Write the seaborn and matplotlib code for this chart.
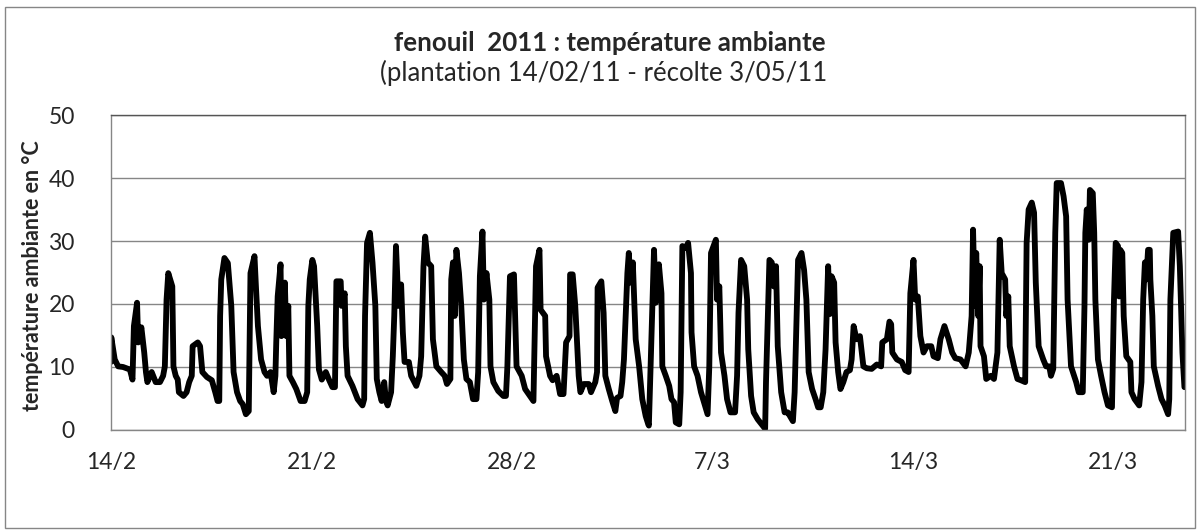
import matplotlib
matplotlib.use('Agg')
import matplotlib.pyplot as plt
import seaborn as sns
from matplotlib.patches import Rectangle

# jours depuis le 14/2 et température ambiante (°C)
jours = [
    0.0, 0.01, 0.13, 0.25, 0.42, 0.66, 0.75, 0.80, 0.91, 0.95, 1.06, 1.16, 1.22, 1.27, 1.42, 1.56,
    1.71, 1.82, 1.88, 1.94, 2.0, 2.14, 2.18, 2.26, 2.33, 2.37, 2.53, 2.64, 2.73, 2.82, 2.85, 3.03,
    3.11, 3.19, 3.35, 3.52, 3.64, 3.72, 3.78, 3.81, 3.85, 3.96, 4.08, 4.20, 4.28, 4.40, 4.51, 4.60,
    4.71, 4.81, 4.87, 5.01, 5.06, 5.13, 5.24, 5.36, 5.45, 5.57, 5.68, 5.74, 5.77, 5.82, 5.92, 5.95,
    6.07, 6.12, 6.19, 6.23, 6.35, 6.47, 6.62, 6.76, 6.85, 6.89, 6.94, 7.03, 7.09, 7.20, 7.26, 7.36,
    7.50, 7.61, 7.73, 7.82, 7.87, 8.02, 8.05, 8.16, 8.20, 8.26, 8.43, 8.61, 8.78, 8.84, 8.87, 8.94,
    9.04, 9.13, 9.23, 9.28, 9.37, 9.45, 9.54, 9.60, 9.66, 9.78, 9.84, 9.89, 9.95, 10.04, 10.13, 10.19,
    10.25, 10.40, 10.48, 10.66, 10.77, 10.83, 10.91, 10.97, 11.06, 11.18, 11.24, 11.36, 11.53, 11.65,
    11.73, 11.85, 11.88, 11.94, 12.00, 12.06, 12.15, 12.23, 12.32, 12.41, 12.53, 12.64, 12.76, 12.82,
    12.88, 12.97, 13.02, 13.11, 13.21, 13.25, 13.35, 13.52, 13.70, 13.79, 13.84, 13.93, 14.07, 14.16,
    14.34, 14.46, 14.63, 14.75, 14.84, 14.96, 15.00, 15.16, 15.19, 15.33, 15.42, 15.56, 15.68, 15.80,
    15.89, 16.01, 16.03, 16.12, 16.21, 16.33, 16.39, 16.51, 16.68, 16.76, 16.91, 16.97, 16.99, 17.12,
    17.20, 17.26, 17.38, 17.50, 17.61, 17.67, 17.79, 17.85, 17.91, 18.03, 18.08, 18.14, 18.22, 18.32,
    18.44, 18.55, 18.67, 18.76, 18.78, 18.90, 18.96, 19.02, 19.13, 19.22, 19.25, 19.37, 19.49, 19.57,
    19.66, 19.72, 19.84, 19.89, 19.95, 20.07, 20.15, 20.25, 20.27, 20.36, 20.48, 20.60, 20.74, 20.83,
    20.89, 20.95, 21.04, 21.12, 21.16, 21.24, 21.30, 21.42, 21.51, 21.63, 21.79, 21.86, 21.91, 22.00,
    22.11, 22.21, 22.25, 22.35, 22.44, 22.58, 22.72, 22.84, 22.87, 22.99, 23.07, 23.14, 23.22, 23.28,
    23.40, 23.52, 23.63, 23.81, 23.87, 23.99, 24.11, 24.20, 24.28, 24.36, 24.48, 24.60, 24.69, 24.78,
    24.87, 24.95, 25.04, 25.10, 25.16, 25.25, 25.30, 25.39, 25.47, 25.57, 25.68, 25.80, 25.86, 25.93,
    26.03, 26.15, 26.27, 26.39, 26.56, 26.74, 26.89, 26.93, 27.09, 27.18, 27.24, 27.28, 27.44, 27.61,
    27.73, 27.85, 27.91, 28.02, 28.08, 28.17, 28.26, 28.37, 28.49, 28.64, 28.72, 28.87, 28.96, 29.10,
    29.25, 29.37, 29.48, 29.66, 29.84, 29.95, 30.05, 30.10, 30.16, 30.21, 30.28, 30.33, 30.36, 30.48,
    30.56, 30.72, 30.83, 30.95, 31.03, 31.10, 31.22, 31.26, 31.33, 31.38, 31.53, 31.65, 31.77, 31.92,
    31.97, 32.04, 32.15, 32.23, 32.29, 32.39, 32.55, 32.65, 32.76, 32.82, 32.90, 32.97, 33.02, 33.17,
    33.26, 33.35, 33.40, 33.52, 33.70, 33.79, 33.93, 33.99, 34.02, 34.07, 34.14, 34.18, 34.28, 34.33,
    34.37, 34.46, 34.57, 34.69, 34.81, 34.95, 35.02, 35.08, 35.16, 35.20, 35.24, 35.31, 35.36, 35.45,
    35.59, 35.63, 35.74, 35.90, 35.98, 36.04, 36.10, 36.15, 36.21, 36.27, 36.29, 36.36, 36.41, 36.56,
    36.68, 36.79, 36.91, 36.95, 36.99, 37.09, 37.26, 37.32, 37.41, 37.48,
]
temperature = [
    10.8, 14.7, 11.2, 10.1, 10.0, 9.6, 8.0, 16.5, 20.2, 13.9, 16.3, 12.3, 9.2, 7.6, 9.2, 7.6,
    7.6, 8.6, 10.1, 20.7, 24.9, 22.8, 10.1, 8.6, 8.0, 6.0, 5.4, 6.0, 7.6, 8.6, 13.3, 13.9,
    13.3, 9.2, 8.4, 7.9, 6.0, 4.6, 4.6, 18.1, 23.9, 27.3, 26.5, 19.7, 9.2, 6.0, 4.6, 4.1,
    2.5, 3.0, 24.9, 27.6, 22.8, 16.5, 11.2, 9.2, 8.6, 9.2, 6.0, 8.6, 13.9, 21.2, 26.3, 14.9,
    23.4, 14.9, 19.7, 8.6, 7.6, 6.5, 4.6, 4.6, 6.0, 19.7, 23.9, 27.0, 26.0, 16.5, 9.6, 8.0,
    9.2, 8.0, 6.8, 6.8, 23.6, 23.6, 19.7, 21.7, 13.3, 8.6, 7.0, 4.9, 3.9, 4.9, 18.1, 29.7,
    31.3, 26.6, 19.7, 8.1, 6.0, 4.6, 7.6, 4.6, 3.9, 6.0, 11.7, 18.1, 29.2, 19.7, 23.1, 15.5,
    10.8, 10.8, 8.6, 7.0, 8.6, 11.7, 26.0, 30.7, 26.6, 26.0, 14.4, 10.1, 9.2, 8.6,
    7.3, 8.1, 23.9, 26.6, 18.1, 28.6, 24.9, 19.7, 11.2, 8.1, 7.6, 4.9, 4.9, 9.2,
    24.4, 31.5, 20.7, 24.9, 20.7, 10.1, 7.6, 6.2, 5.4, 5.4, 10.1, 24.4, 24.7, 10.1,
    8.6, 6.5, 5.4, 4.6, 26.0, 28.6, 19.1, 18.1, 11.7, 8.6, 7.9, 8.6, 5.7, 5.7,
    13.9, 14.9, 24.7, 24.7, 19.7, 8.6, 6.0, 7.3, 7.3, 6.0, 7.6, 9.2, 22.6, 23.6,
    18.6, 8.6, 6.5, 4.6, 3.0, 5.1, 5.4, 7.6, 11.2, 24.9, 28.1, 23.4, 26.6, 14.4,
    10.1, 4.9, 2.2, 0.9, 0.7, 19.7, 28.6, 20.2, 26.3, 21.7, 10.1, 8.6, 7.0, 4.9,
    4.4, 1.2, 0.9, 6.0, 29.2, 28.9, 29.7, 24.9, 15.5, 10.1, 8.6, 6.0, 3.9, 2.5,
    10.1, 28.1, 29.2, 30.2, 20.7, 22.8, 12.3, 8.6, 4.9, 2.8, 2.8, 8.6, 18.6, 27.0,
    26.0, 20.7, 12.8, 5.4, 2.8, 1.7, 0.9, 0.2, 7.6, 27.0, 26.6, 22.8, 26.0, 13.3,
    6.0, 2.8, 2.8, 1.4, 6.0, 27.0, 28.1, 25.4, 20.7, 9.2, 6.5, 4.9, 3.6, 3.6,
    6.0, 12.8, 26.0, 18.4, 24.4, 23.4, 13.9, 9.2, 6.5, 7.6, 9.2, 9.5, 11.2, 16.5,
    14.4, 14.9, 10.1, 9.8, 9.7, 10.4, 10.1, 13.9, 14.4, 17.2, 16.8, 12.3, 11.2, 10.8,
    9.5, 9.2, 21.7, 27.0, 20.7, 21.2, 14.9, 12.3, 13.3, 13.3, 11.7, 11.4, 14.4, 16.5,
    14.4, 12.3, 11.4, 11.2, 10.1, 12.3, 18.1, 31.8, 19.7, 28.1, 18.1, 26.0, 13.3, 11.7,
    8.1, 8.6, 8.1, 12.3, 30.2, 24.9, 23.9, 18.1, 21.2, 13.3, 10.1, 8.1, 7.9, 7.6,
    29.7, 35.0, 36.1, 34.5, 23.4, 13.3, 11.2, 10.1, 10.1, 8.6, 9.7, 31.3, 39.2, 39.2,
    37.1, 33.9, 20.7, 10.1, 7.6, 6.0, 6.0, 19.7, 31.3, 35.0, 30.2, 38.1, 37.6, 31.3,
    20.7, 11.2, 8.6, 6.0, 3.9, 3.6, 20.7, 29.7, 29.2, 21.2, 28.6, 28.1, 18.1, 11.7,
    10.8, 6.0, 4.9, 3.9, 7.6, 20.7, 26.6, 23.9, 28.6, 28.6, 23.9, 18.1, 10.1, 7.0,
    4.9, 3.9, 2.5, 4.9, 20.7, 31.3, 31.5, 26.0, 12.3, 6.8,
]

tick_jours = [0, 7, 14, 21, 28, 35]
tick_labels = ['14/2', '21/2', '28/2', '7/3', '14/3', '21/3']
y_ticks = [0, 10, 20, 30, 40, 50]

sns.set_style('white')
plt.rcParams['font.family'] = ['Lato', 'DejaVu Sans']

fig = plt.figure(figsize=(12, 5.3), dpi=100)
ax = fig.add_axes([0.0925, 0.1887, 0.895, 0.5943])

sns.lineplot(x=jours, y=temperature, color='black', linewidth=4.2, estimator=None, sort=False, ax=ax)

ax.set_xlim(0, 37.5)
ax.set_ylim(0, 50)
ax.set_xticks(tick_jours)
ax.set_xticklabels(tick_labels)
ax.set_yticks(y_ticks)
ax.grid(axis='y', color='#868686', linewidth=1)
ax.set_axisbelow(True)
for s in ax.spines.values():
    s.set_color('#868686')
    s.set_linewidth(1)
ax.spines['top'].set_color('#555555')
ax.tick_params(axis='x', direction='out', length=6, width=1, color='#868686', pad=10, labelsize=16.5)
ax.tick_params(axis='y', direction='out', length=6, width=1, color='#868686', pad=20, labelsize=16.5)
ax.set_xlabel('')
ax.set_ylabel('température ambiante en °C', fontsize=15.5, fontweight='bold')
ax.yaxis.set_label_coords(-0.0635, 0.49)

fig.text(0.508, 0.919, 'fenouil  2011 : température ambiante', ha='center', va='center',
         fontsize=18.6, fontweight='bold')
fig.text(0.503, 0.862, '(plantation 14/02/11 - récolte 3/05/11', ha='center', va='center',
         fontsize=18.5)

fig.patches.append(Rectangle((0.004, 0.004), 0.992, 0.983, transform=fig.transFigure,
                             fill=False, edgecolor='#868686', linewidth=1))

fig.savefig('out.png', dpi=100)
